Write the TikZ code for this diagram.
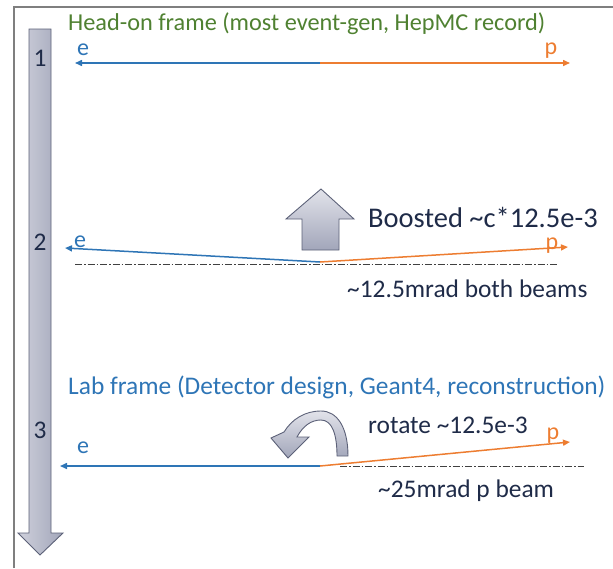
\documentclass[tikz,border=0pt]{standalone}
\usepackage{fontspec}
\setmainfont{Carlito}
\usetikzlibrary{arrows.meta}
\definecolor{ebl}{HTML}{2E75B6}
\definecolor{por}{HTML}{ED7D31}
\definecolor{tgr}{HTML}{4F8131}
\definecolor{nav}{HTML}{1F2B48}
\definecolor{frm}{HTML}{7F7F7F}
\definecolor{blkedge}{HTML}{5C6178}
\definecolor{blklight}{HTML}{E2E3EA}
\definecolor{blkdark}{HTML}{A2A6BA}
\tikzset{
  txt/.style={font=\fontsize{24}{28}\selectfont, inner sep=0pt},
  txtm/.style={font=\fontsize{25.4}{30}\selectfont, inner sep=0pt},
  txtl/.style={font=\fontsize{28.5}{32}\selectfont, inner sep=0pt},
  beamE/.style={draw=ebl, line width=1.5pt, -{Triangle[length=7pt,width=6pt]}},
  beamP/.style={draw=por, line width=1.5pt, -{Triangle[length=7pt,width=6pt]}},
  axisline/.style={draw=black!75, line width=0.8pt, dash pattern=on 7pt off 2pt on 1.5pt off 2pt},
  blockarrow/.style={draw=blkedge, line width=0.9pt, top color=blklight, bottom color=blkdark},
  bigarrow/.style={draw=blkedge, line width=0.9pt, left color=blklight!70!blkdark, right color=blkdark},
}
\begin{document}
\begin{tikzpicture}[x=1pt,y=-1pt]
\useasboundingbox (0,0) rectangle (613,568);
% frame
\draw[frm, line width=2pt] (14,568) -- (14,7) -- (613,7);
% big down arrow
\path[bigarrow]
  (29,29) -- (51,29) -- (51,533) -- (63,533) -- (40,555) -- (18,533) -- (29,533) -- cycle;
\node[txtm, text=nav] (n1) at (40,58) {1};
\node[txtm, text=nav] (n2) at (40,242) {2};
\node[txtm, text=nav] (n3) at (40,430) {3};

% row 1
\node[txtm, text=tgr, anchor=base west, font=\fontsize{24.3}{28}\selectfont] (t1) at (68,30) {Head-on frame (most event-gen, HepMC record)};
\coordinate (j1) at (320,63);
\coordinate (e1) at (75,63);
\coordinate (p1) at (570,63);
\draw[beamE] (j1) -- (e1);
\draw[beamP] (j1) -- (p1);
\node[txt, text=ebl] (le1) at (83,50) {e};
\node[txt, text=por] (lp1) at (551,51) {p};

% row 2
\path[blockarrow] (321,189) -- (354,219) -- (339,219) -- (339,250) -- (302,250) -- (302,219) -- (286,219) -- cycle;
\node[txtl, text=nav, anchor=base west] (boost) at (368,227) {Boosted \textasciitilde c*12.5e-3};
\coordinate (a2l) at (75,264);
\coordinate (a2r) at (558,264);
\draw[axisline] (a2l) -- (a2r);
\coordinate (j2) at (320,262);
\coordinate (e2) at (65,248);
\coordinate (p2) at (568,247);
\draw[beamE] (j2) -- (e2);
\draw[beamP] (j2) -- (p2);
\node[txt, text=ebl] (le2) at (80,242) {e};
\node[txt, text=por] (lp2) at (552,246) {p};
\node[txtm, text=nav, anchor=base west] (mrad2) at (347,297) {\textasciitilde 12.5mrad both beams};

% row 3
\node[txtm, text=ebl, anchor=base west] (t3) at (68,394) {Lab frame (Detector design, Geant4, reconstruction)};
\path[blockarrow] (348,456) .. controls (348,427) and (337,411) .. (321,411)
  .. controls (305,411) and (292,419) .. (284,432)
  -- (271,438) -- (288,458) -- (309,437) -- (297,437)
  .. controls (303,426) and (311,420) .. (321,420)
  .. controls (332,420) and (337,434) .. (337,456) -- cycle;
\node[txtm, text=nav, anchor=base west] (rot) at (368,433) {rotate \textasciitilde 12.5e-3};
\coordinate (a3l) at (340,466);
\coordinate (a3r) at (584,466);
\draw[axisline] (a3l) -- (a3r);
\coordinate (j3) at (320,466);
\coordinate (e3) at (60,466);
\coordinate (p3) at (570,442);
\draw[beamE] (j3) -- (e3);
\draw[beamP] (j3) -- (p3);
\node[txt, text=ebl] (le3) at (83,448) {e};
\node[txt, text=por] (lp3) at (553,436) {p};
\node[txtm, text=nav, anchor=base west] (mrad3) at (378,497) {\textasciitilde 25mrad p beam};
\end{tikzpicture}
\end{document}
